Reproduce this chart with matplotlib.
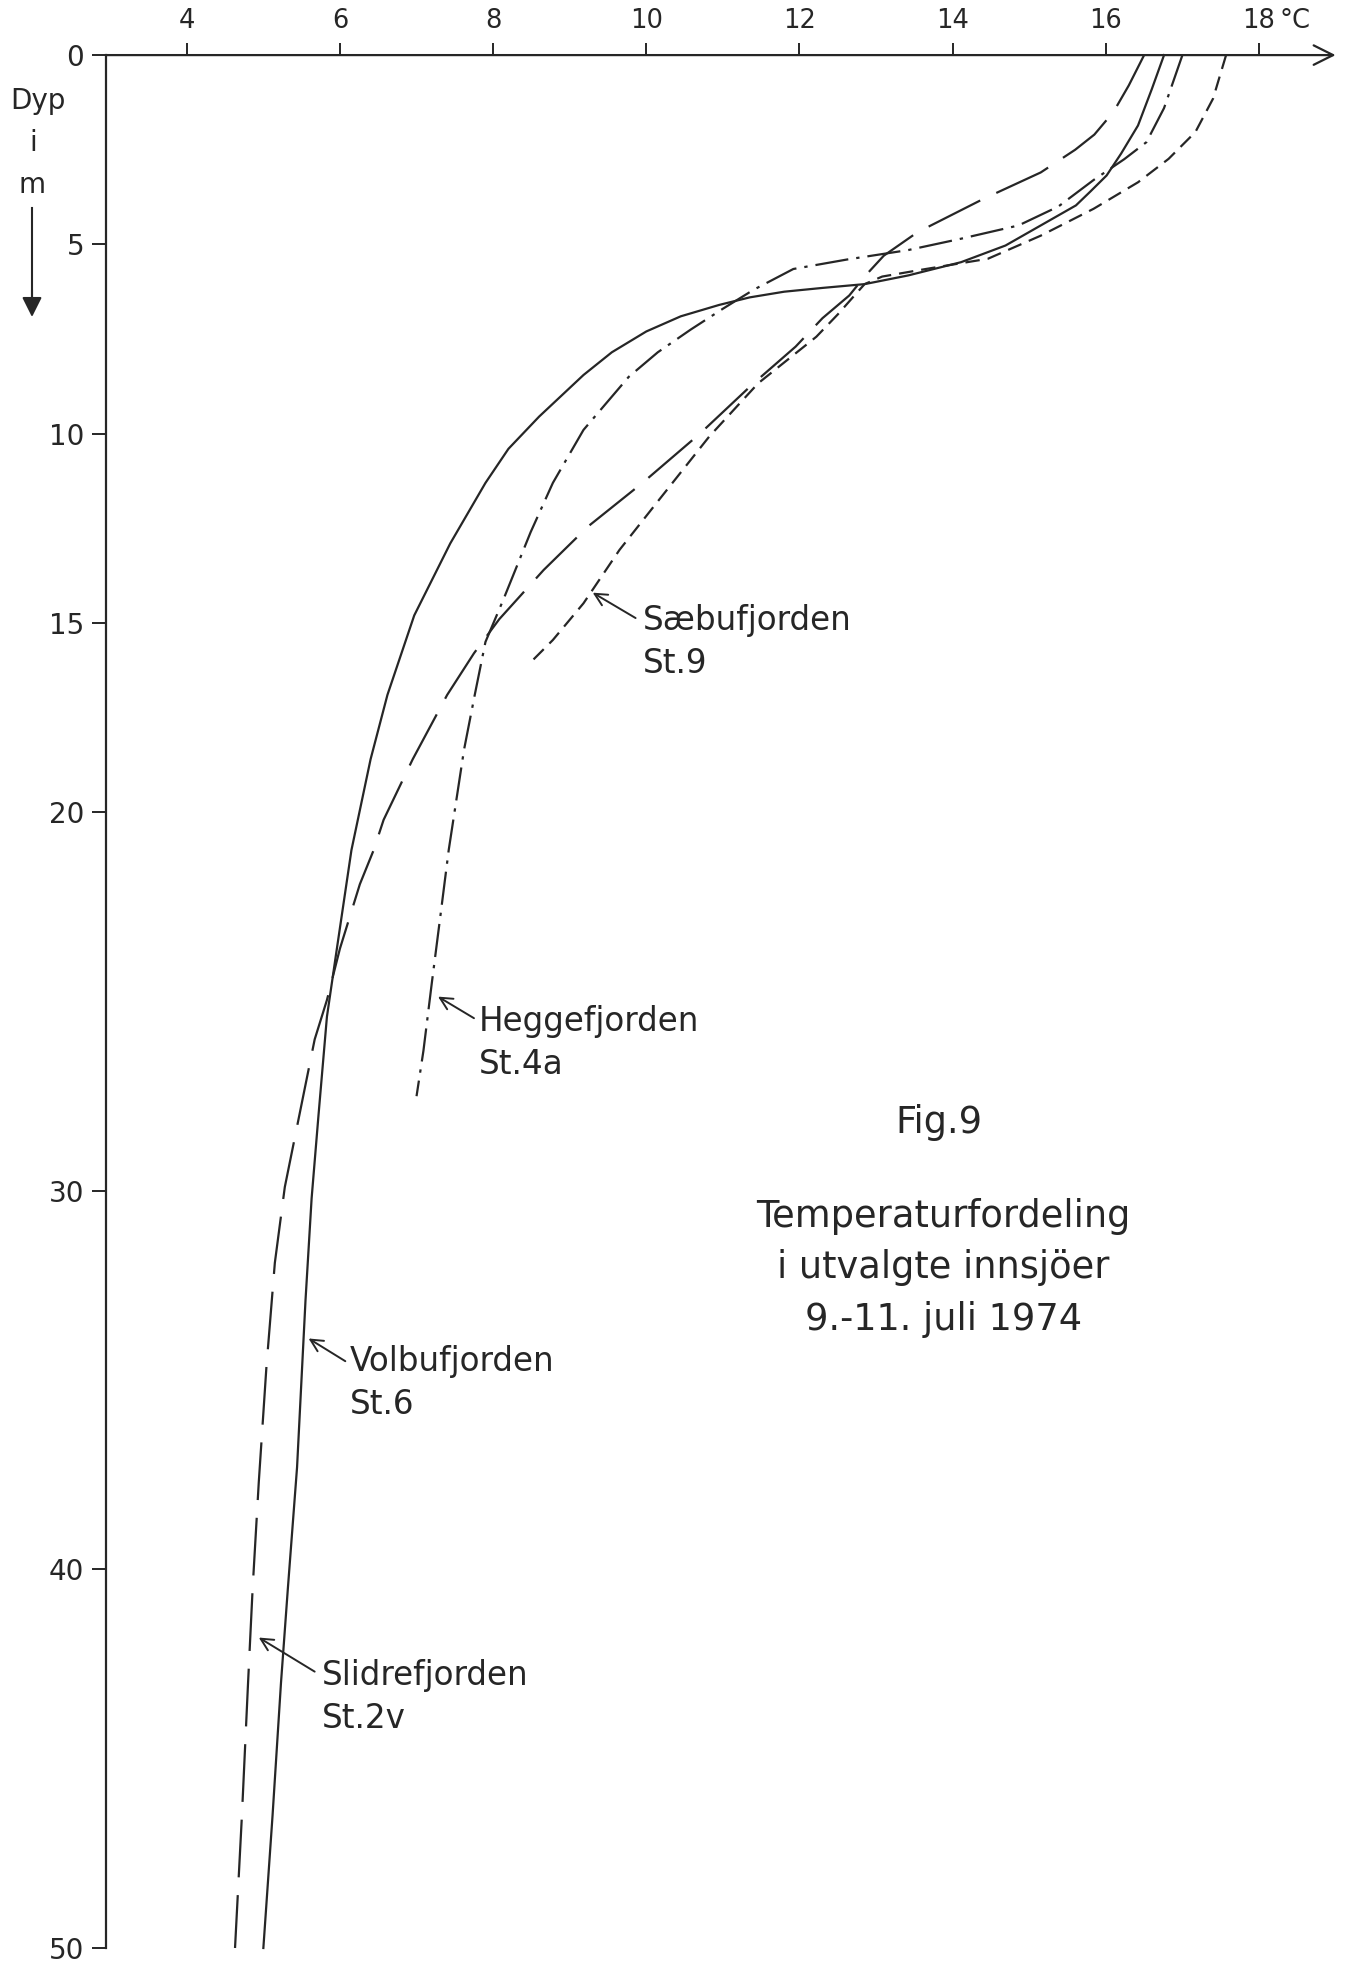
import matplotlib.pyplot as plt
import matplotlib.transforms as mtransforms

# temperatur (C) mot dyp (m), lest av figuren
volbu_temp = [16.76, 16.6, 16.42, 16.2, 16.01, 15.8, 15.61, 15.15, 14.69, 14.11, 13.42, 12.85, 12.3,
              11.8, 11.35, 10.95, 10.45, 10.0, 9.55, 9.18, 8.6, 8.2, 7.9, 7.44, 6.97, 6.62, 6.4, 6.15,
              5.96, 5.83, 5.72, 5.63, 5.55, 5.44, 5.32, 5.23, 5.12, 5.0]
volbu_depth = [0, 0.9, 1.86, 2.6, 3.18, 3.6, 3.97, 4.5, 5.03, 5.47, 5.82, 6.05, 6.15,
               6.25, 6.4, 6.6, 6.9, 7.3, 7.85, 8.45, 9.55, 10.4, 11.3, 12.9, 14.8, 16.9, 18.6, 21.0,
               23.6, 25.4, 28.0, 30.2, 32.9, 37.3, 40.5, 43.0, 46.5, 50.0]

slidre_temp = [16.5, 16.3, 16.1, 15.85, 15.6, 15.15, 14.4, 13.54, 13.1, 12.85, 12.65, 12.3, 11.95,
               11.4, 10.7, 9.95, 9.24, 8.66, 8.08, 7.75, 7.4, 6.95, 6.57, 6.44, 6.26, 6.0, 5.83, 5.67,
               5.48, 5.28, 5.15, 5.04, 4.94, 4.86, 4.8, 4.72, 4.63]
slidre_depth = [0, 0.8, 1.5, 2.1, 2.5, 3.1, 3.8, 4.68, 5.3, 5.85, 6.35, 6.95, 7.7,
                8.67, 10.0, 11.3, 12.45, 13.6, 14.9, 15.8, 16.9, 18.6, 20.2, 21.0, 21.9, 23.6, 24.96, 26.0,
                27.9, 29.9, 31.9, 34.65, 37.7, 40.5, 43.0, 46.5, 50.0]

hegge_temp = [17.0, 16.76, 16.53, 16.24, 15.84, 15.38, 14.86, 14.11, 13.42, 12.62, 11.92, 11.4, 11.0,
              10.58, 10.15, 9.77, 9.18, 8.78, 8.49, 8.13, 7.9, 7.76, 7.62, 7.42, 7.31, 7.2, 7.09, 7.0]
hegge_depth = [0, 1.4, 2.3, 2.75, 3.3, 4.0, 4.5, 4.85, 5.15, 5.4, 5.65, 6.2, 6.7,
               7.25, 7.85, 8.5, 9.9, 11.3, 12.6, 14.4, 15.5, 16.9, 18.35, 21.0, 22.76, 24.5, 26.3, 27.5]

saebu_temp = [17.57, 17.4, 17.17, 16.82, 16.42, 15.84, 15.15, 14.46, 13.65, 13.08, 12.85, 12.74,
              12.5, 12.22, 11.46, 10.82, 10.13, 9.65, 9.18, 8.78, 8.46]
saebu_depth = [0, 1.15, 2.03, 2.74, 3.36, 4.06, 4.77, 5.38, 5.65, 5.85, 6.05, 6.3,
               6.85, 7.44, 8.67, 10.08, 11.84, 13.07, 14.48, 15.45, 16.1]

x_ticks = [4, 6, 8, 10, 12, 14, 16, 18]
y_ticks = [0, 5, 10, 15, 20, 30, 40, 50]

farge = '#262626'
plt.rcParams['font.family'] = 'DejaVu Sans'

fig = plt.figure(figsize=(13.48, 19.64), dpi=100)
ax = fig.add_axes([0.0789, 0.00815, 0.9119, 0.9638])
ax.set_xlim(2.95, 19.0)
ax.set_ylim(50, 0)

lw = 1.6
ax.plot(volbu_temp, volbu_depth, color=farge, lw=lw, clip_on=False)
ax.plot(slidre_temp, slidre_depth, color=farge, lw=lw, dashes=(26, 8), clip_on=False)
ax.plot(hegge_temp, hegge_depth, color=farge, lw=lw, dashes=(15, 3.6, 1.5, 3.6), clip_on=False)
ax.plot(saebu_temp, saebu_depth, color=farge, lw=lw, dashes=(6.5, 3.6), clip_on=False)

# akser
for s in ['top', 'right', 'bottom']:
    ax.spines[s].set_visible(False)
ax.spines['left'].set_color(farge)
ax.spines['left'].set_linewidth(1.6)
ax.spines['left'].set_bounds(50, 0)
ax.annotate('', xy=(19.0, 0), xytext=(2.95, 0), xycoords='data',
            arrowprops=dict(arrowstyle='->', lw=1.6, color=farge, mutation_scale=35,
                            shrinkA=0, shrinkB=0), annotation_clip=False)

ax.xaxis.tick_top()
ax.set_xticks(x_ticks)
ax.set_xticklabels([str(t) for t in x_ticks])
ax.set_yticks(y_ticks)
ax.set_yticklabels([str(t) for t in y_ticks])
ax.tick_params(axis='x', direction='out', length=9, width=1.4, pad=6, labelsize=18.5, colors=farge)
ax.tick_params(axis='y', direction='out', length=10, width=1.4, pad=6, labelsize=20, colors=farge)

off = mtransforms.offset_copy(ax.get_xaxis_transform(), fig=fig, x=0, y=15, units='points')
ax.text(18.27, 1.0, '°C', transform=off, ha='left', va='bottom', fontsize=18.5, color=farge)

# y-akse tittel
fig.text(38 / 1348, 1 - 101 / 1964, 'Dyp', ha='center', va='center', fontsize=20, color=farge)
fig.text(33 / 1348, 1 - 143 / 1964, 'i', ha='center', va='center', fontsize=20, color=farge)
fig.text(32 / 1348, 1 - 185 / 1964, 'm', ha='center', va='center', fontsize=20, color=farge)
fig.add_artist(plt.Line2D([32 / 1348, 32 / 1348], [1 - 208 / 1964, 1 - 300 / 1964],
                          color=farge, lw=1.5))
ax.annotate('', xy=(32 / 1348, 1 - 317 / 1964), xytext=(32 / 1348, 1 - 290 / 1964),
            xycoords='figure fraction',
            arrowprops=dict(arrowstyle='-|>', lw=1.5, color=farge, mutation_scale=30,
                            shrinkA=0, shrinkB=0))

# navn paa kurvene
navn = ['Sæbufjorden\nSt.9', 'Heggefjorden\nSt.4a', 'Volbufjorden\nSt.6', 'Slidrefjorden\nSt.2v']
pil_spiss = [(9.30, 14.2), (7.28, 24.87), (5.59, 33.9), (4.94, 41.8)]
pil_hale = [(9.86, 14.87), (7.75, 25.44), (6.07, 34.5), (5.67, 42.7)]
tekst_pos = [(9.95, 15.5), (7.81, 26.1), (6.13, 35.08), (5.76, 43.38)]

for n, sp, ha_, tp in zip(navn, pil_spiss, pil_hale, tekst_pos):
    ax.annotate('', xy=sp, xytext=ha_,
                arrowprops=dict(arrowstyle='->', lw=1.4, color=farge, mutation_scale=22,
                                shrinkA=0, shrinkB=0))
    ax.text(tp[0], tp[1], n, ha='left', va='center', fontsize=23.5, color=farge,
            linespacing=1.38)

ax.text(13.82, 28.2, 'Fig.9', ha='center', va='center', fontsize=26.5, color=farge)
ax.text(13.88, 32.03, 'Temperaturfordeling\ni utvalgte innsjöer\n9.-11. juli 1974',
        ha='center', va='center', multialignment='center', fontsize=26.5, color=farge,
        linespacing=1.5)

fig.savefig('out.png', dpi=100, facecolor='white')
